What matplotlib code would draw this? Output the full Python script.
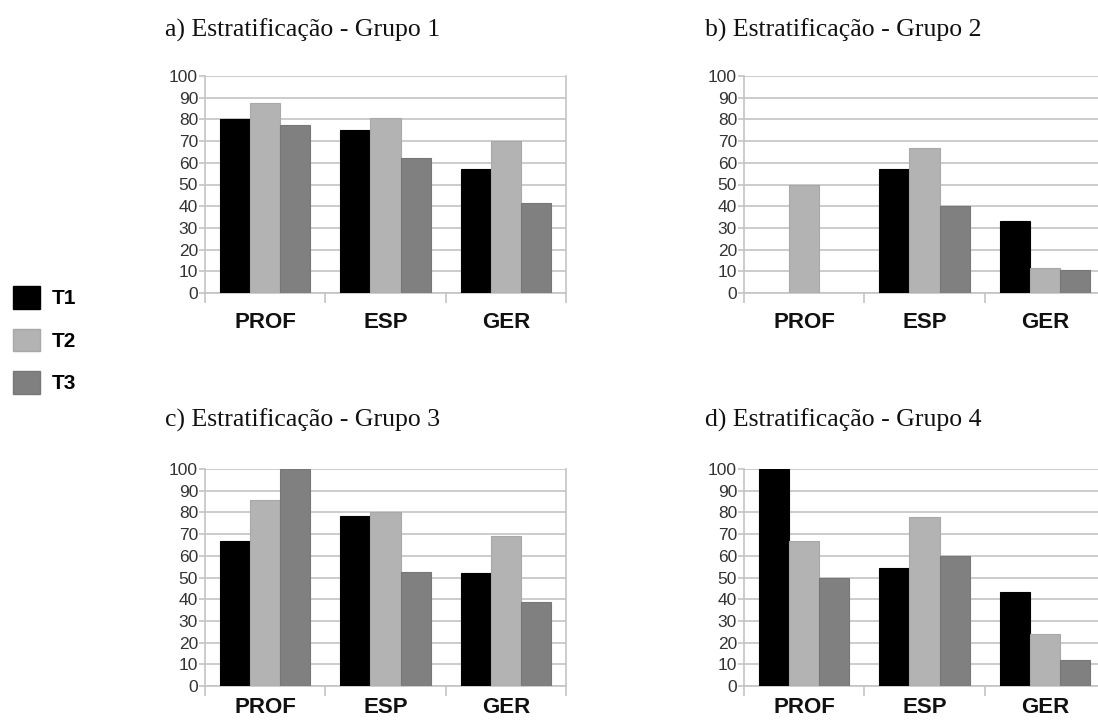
import matplotlib
matplotlib.use('Agg')
import matplotlib.pyplot as plt
from matplotlib.patches import Patch
import numpy as np

# categories and series (percent)
categories = ['PROF', 'ESP', 'GER']
series_names = ['T1', 'T2', 'T3']
titles = ['a) Estratificação - Grupo 1', 'b) Estratificação - Grupo 2',
          'c) Estratificação - Grupo 3', 'd) Estratificação - Grupo 4']

grupo1_t1 = [80, 75, 57]
grupo1_t2 = [87.5, 80.5, 70]
grupo1_t3 = [77.5, 62, 41.5]

grupo2_t1 = [0, 57, 33]
grupo2_t2 = [50, 66.7, 11.5]
grupo2_t3 = [0, 40, 10.5]

grupo3_t1 = [66.7, 78.5, 52]
grupo3_t2 = [85.7, 80, 69]
grupo3_t3 = [100, 52.5, 38.5]

grupo4_t1 = [100, 54.5, 43.5]
grupo4_t2 = [66.7, 77.7, 24]
grupo4_t3 = [50, 60, 12]

yticks = list(range(0, 101, 10))

colors = ['#000000', '#b3b3b3', '#808080']
edges = ['#000000', '#a8a8a8', '#777777']
grid_c = '#c4c4c4'

fig = plt.figure(figsize=(10.98, 7.2), dpi=100)

# axes positions in figure fraction: left, bottom, width, height
ax_w = 361 / 1098
ax_h = 217 / 720
positions = [(205 / 1098, 1 - 293 / 720), (744 / 1098, 1 - 293 / 720),
             (205 / 1098, 1 - 686 / 720), (744 / 1098, 1 - 686 / 720)]
title_pos = [(165 / 1098, 1 - 30 / 720), (705 / 1098, 1 - 30 / 720),
             (165 / 1098, 1 - 420 / 720), (705 / 1098, 1 - 420 / 720)]
label_pad = [14, 14, 8, 8]

data = [[grupo1_t1, grupo1_t2, grupo1_t3],
        [grupo2_t1, grupo2_t2, grupo2_t3],
        [grupo3_t1, grupo3_t2, grupo3_t3],
        [grupo4_t1, grupo4_t2, grupo4_t3]]

x = np.arange(len(categories))
bw = 0.25
for k in range(4):
    ax = fig.add_axes([positions[k][0], positions[k][1], ax_w, ax_h])
    for i in range(3):
        vals = data[k][i]
        lw = [0.8 if v > 0 else 0 for v in vals]
        ax.bar(x + (i - 1) * bw, vals, bw, color=colors[i],
               edgecolor=edges[i], linewidth=lw, zorder=3)
    ax.set_xlim(-0.5, 2.5)
    ax.set_ylim(0, 100)
    ax.set_yticks(yticks)
    ax.set_yticklabels([str(v) for v in yticks], fontsize=12.5,
                       family='Liberation Sans', color='#333333')
    ax.yaxis.grid(True, color=grid_c, linewidth=1.2, zorder=0)
    ax.set_axisbelow(True)
    # boundaries between categories get the tick marks
    ax.set_xticks([-0.5, 0.5, 1.5, 2.5])
    ax.set_xticklabels([])
    ax.set_xticks(x, minor=True)
    ax.set_xticklabels(categories, minor=True, fontsize=16,
                       fontweight='bold', family='Liberation Sans',
                       color='#111111')
    ax.tick_params(axis='x', which='major', length=7, color=grid_c,
                   direction='out', width=1.2)
    ax.tick_params(axis='x', which='minor', length=0, pad=label_pad[k])
    ax.tick_params(axis='y', length=4, color=grid_c, width=1.2, pad=1)
    ax.spines['top'].set_visible(False)
    for s in ['left', 'right', 'bottom']:
        ax.spines[s].set_color(grid_c)
        ax.spines[s].set_linewidth(1.2)
    fig.text(title_pos[k][0], title_pos[k][1], titles[k], fontsize=18.5,
             family='Liberation Serif', va='center', ha='left', color='#111111')

handles = [Patch(facecolor=colors[i], edgecolor=edges[i]) for i in range(3)]
fig.legend(handles, series_names, loc='center left',
           bbox_to_anchor=(0.0, 1 - 340 / 720), frameon=False,
           prop={'family': 'Liberation Sans', 'weight': 'bold', 'size': 15},
           handlelength=1.3, handleheight=1.3, handletextpad=0.6,
           labelspacing=0.95, borderaxespad=0.2)

plt.savefig('out.png', dpi=100)
